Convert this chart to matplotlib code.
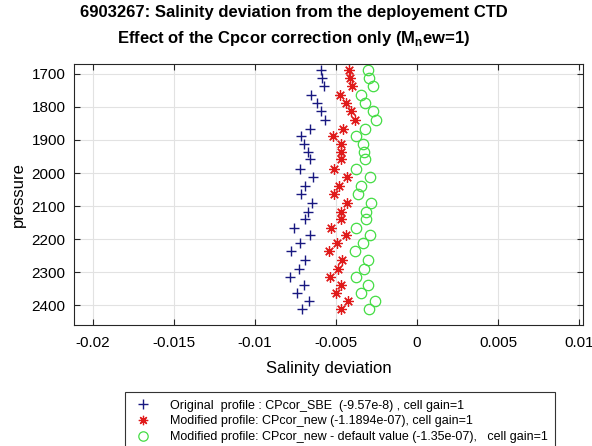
import matplotlib
matplotlib.use("Agg")
import matplotlib.pyplot as plt

plt.rcParams['font.family'] = ['Liberation Sans', 'DejaVu Sans']

# pressure levels (dbar)
pressure = [1688, 1713, 1738, 1763, 1789, 1812, 1839, 1867, 1888, 1912,
            1935, 1958, 1989, 2013, 2039, 2064, 2090, 2117, 2140, 2165,
            2188, 2211, 2236, 2264, 2289, 2314, 2339, 2363, 2388, 2413]

# salinity deviation, original CPcor_SBE
dev_orig = [-0.00590, -0.00584, -0.00574, -0.00652, -0.00618, -0.00590,
            -0.00570, -0.00659, -0.00714, -0.00700, -0.00673, -0.00663,
            -0.00721, -0.00643, -0.00688, -0.00714, -0.00649, -0.00673,
            -0.00688, -0.00756, -0.00663, -0.00721, -0.00776, -0.00694,
            -0.00729, -0.00781, -0.00700, -0.00742, -0.00667, -0.00708]

# modified, CPcor_new
dev_new = [-0.00419, -0.00411, -0.00401, -0.00473, -0.00440, -0.00409,
           -0.00380, -0.00457, -0.00519, -0.00471, -0.00471, -0.00467,
           -0.00512, -0.00429, -0.00481, -0.00512, -0.00429, -0.00467,
           -0.00471, -0.00533, -0.00436, -0.00494, -0.00545, -0.00463,
           -0.00488, -0.00535, -0.00471, -0.00502, -0.00426, -0.00467]

# modified, CPcor_new default value
dev_default = [-0.00302, -0.00296, -0.00271, -0.00343, -0.00322, -0.00274,
               -0.00254, -0.00322, -0.00378, -0.00336, -0.00327, -0.00322,
               -0.00374, -0.00287, -0.00343, -0.00364, -0.00281, -0.00316,
               -0.00312, -0.00378, -0.00287, -0.00336, -0.00384, -0.00302,
               -0.00328, -0.00374, -0.00302, -0.00343, -0.00256, -0.00296]

labels = ["Original  profile : CPcor_SBE  (-9.57e-8) , cell gain=1",
          "Modified profile: CPcor_new (-1.1894e-07), cell gain=1",
          "Modified profile: CPcor_new - default value (-1.35e-07),   cell gain=1"]

xticks = [-0.02, -0.015, -0.01, -0.005, 0, 0.005, 0.01]
xticklabels = ["-0.02", "-0.015", "-0.01", "-0.005", "0", "0.005", "0.01"]
yticks = [1700, 1800, 1900, 2000, 2100, 2200, 2300, 2400]

W, H = 592, 446
fig = plt.figure(figsize=(W / 100, H / 100), dpi=100)
ax = fig.add_axes([74 / W, 1 - 325 / H, (583 - 74) / W, (325 - 64) / H])

ax.plot(dev_orig, pressure, ls='none', marker='+', ms=7.5, mew=1.0,
        color='#181880', label=labels[0])
ax.plot(dev_new, pressure, ls='none', marker=(8, 2, 0), ms=7.5, mew=0.9,
        color='#e01a1a', label=labels[1])
ax.plot(dev_default, pressure, ls='none', marker='o', ms=7.5, mew=0.9,
        mfc='none', color='#44dd44', label=labels[2])

ax.set_xlim(-0.02117, 0.01025)
ax.set_ylim(2460, 1670)
ax.set_xticks(xticks)
ax.set_xticklabels(xticklabels)
ax.set_yticks(yticks)
ax.grid(True, color='#e2e2e2', lw=0.8)
ax.set_axisbelow(True)
ax.tick_params(direction='in', top=True, right=True, length=4,
               color='#262626', labelsize=11, pad=6)
ax.tick_params(axis='x', pad=8)
for s in ax.spines.values():
    s.set_color('#262626')
    s.set_linewidth(0.8)

ax.set_xlabel("Salinity deviation", fontsize=12, labelpad=8)
ax.set_ylabel("pressure", fontsize=12, labelpad=4)

fig.text(294 / W, 1 - 12 / H, "6903267: Salinity deviation from the deployement CTD",
         ha='center', va='center', fontsize=12, fontweight='bold')
fig.text(294 / W, 1 - 38 / H,
         r"Effect of the Cpcor correction only (M$_{\mathregular{n}}$ew=1)",
         ha='center', va='center', fontsize=12, fontweight='bold')

leg = fig.legend(loc='upper left', bbox_to_anchor=(125 / W, 1 - 392 / H),
                 borderaxespad=0, fontsize=9, fancybox=False, framealpha=1,
                 edgecolor='#333333', handlelength=1.6, handletextpad=1.4,
                 labelspacing=0.3, borderpad=0.6, markerscale=0.9)
leg.get_frame().set_linewidth(0.8)

fig.savefig("out.png", dpi=100)
